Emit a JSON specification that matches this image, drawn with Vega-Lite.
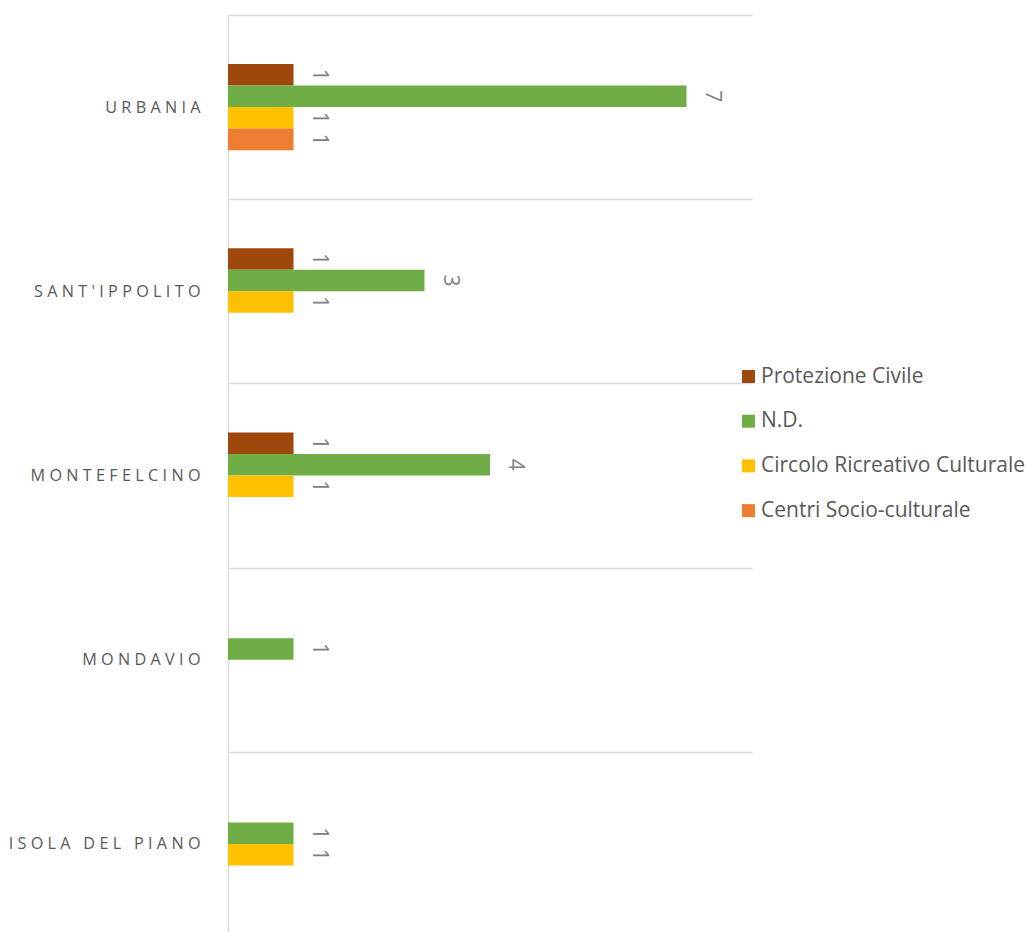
{
  "$schema": "https://vega.github.io/schema/vega-lite/v6.json",
  "width": 524,
  "height": 921,
  "autosize": {"type": "none"},
  "padding": {"left": 228, "top": 15, "right": 275, "bottom": 0},
  "background": "white",
  "config": {"view": {"stroke": null}, "font": "Open Sans"},
  "data": {
    "values": [
      {"comune": "URBANIA", "tipo": "Protezione Civile", "n": 1},
      {"comune": "URBANIA", "tipo": "N.D.", "n": 7},
      {"comune": "URBANIA", "tipo": "Circolo Ricreativo Culturale", "n": 1},
      {"comune": "URBANIA", "tipo": "Centri Socio-culturale", "n": 1},
      {"comune": "SANT'IPPOLITO", "tipo": "Protezione Civile", "n": 1},
      {"comune": "SANT'IPPOLITO", "tipo": "N.D.", "n": 3},
      {"comune": "SANT'IPPOLITO", "tipo": "Circolo Ricreativo Culturale", "n": 1},
      {"comune": "MONTEFELCINO", "tipo": "Protezione Civile", "n": 1},
      {"comune": "MONTEFELCINO", "tipo": "N.D.", "n": 4},
      {"comune": "MONTEFELCINO", "tipo": "Circolo Ricreativo Culturale", "n": 1},
      {"comune": "MONDAVIO", "tipo": "N.D.", "n": 1},
      {"comune": "ISOLA DEL PIANO", "tipo": "N.D.", "n": 1},
      {"comune": "ISOLA DEL PIANO", "tipo": "Circolo Ricreativo Culturale", "n": 1}
    ]
  },
  "encoding": {
    "y": {
      "field": "comune",
      "type": "nominal",
      "sort": ["URBANIA", "SANT'IPPOLITO", "MONTEFELCINO", "MONDAVIO", "ISOLA DEL PIANO"],
      "scale": {"paddingInner": 0, "paddingOuter": 0},
      "axis": {
        "title": null,
        "grid": true,
        "gridColor": "#D9D9D9",
        "gridWidth": 1.3,
        "tickBand": "extent",
        "ticks": false,
        "domainColor": "#D9D9D9",
        "domainWidth": 1.3,
        "labelFont": "Open Sans",
        "labelFontSize": 16.2,
        "labelColor": "#595959",
        "labelPadding": 28,
        "labelLimit": 400,
        "labelExpr": "join(split(datum.label, ''), '\u2009\u200a')"
      }
    },
    "yOffset": {
      "field": "tipo",
      "type": "nominal",
      "scale": {
        "domain": ["_p1", "_p2", "Protezione Civile", "N.D.", "Circolo Ricreativo Culturale", "Centri Socio-culturale", "_p3", "_p4"],
        "paddingInner": 0,
        "paddingOuter": 0.28
      }
    },
    "x": {
      "field": "n",
      "type": "quantitative",
      "scale": {"domain": [0, 8]},
      "axis": null
    }
  },
  "layer": [
    {
      "mark": {"type": "bar"},
      "encoding": {
        "color": {
          "field": "tipo",
          "type": "nominal",
          "scale": {
            "domain": ["Protezione Civile", "N.D.", "Circolo Ricreativo Culturale", "Centri Socio-culturale"],
            "range": ["#9E480E", "#70AD47", "#FFC000", "#ED7D31"]
          },
          "legend": {
            "orient": "none",
            "legendX": 510,
            "legendY": 351,
            "title": null,
            "symbolType": "square",
            "symbolSize": 169,
            "symbolStrokeWidth": 0,
            "symbolOpacity": 1,
            "labelFont": "Open Sans",
            "labelFontSize": 21,
            "labelColor": "#595959",
            "labelLimit": 400,
            "rowPadding": 22.7,
            "labelOffset": 2
          }
        }
      }
    },
    {
      "mark": {
        "type": "text",
        "angle": 90,
        "align": "center",
        "baseline": "alphabetic",
        "dy": -19,
        "fontSize": 21,
        "color": "#808080"
      },
      "encoding": {"text": {"field": "n", "type": "quantitative"}}
    }
  ]
}
